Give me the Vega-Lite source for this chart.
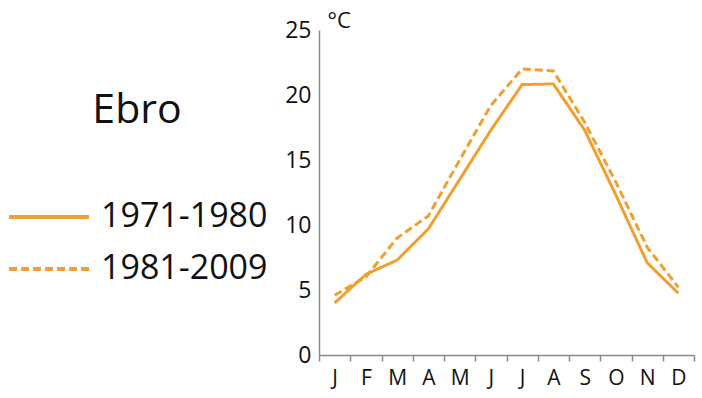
{
  "$schema": "https://vega.github.io/schema/vega-lite/v6.json",
  "width": 375,
  "height": 325,
  "autosize": {"type": "none"},
  "padding": {"left": 319, "top": 30, "right": 8, "bottom": 43},
  "background": "white",
  "config": {"view": {"stroke": null}, "font": "Open Sans"},
  "data": {
    "values": [
      {"month": "January", "period": "1971-1980", "t": 4.0},
      {"month": "February", "period": "1971-1980", "t": 6.2},
      {"month": "March", "period": "1971-1980", "t": 7.3},
      {"month": "April", "period": "1971-1980", "t": 9.7},
      {"month": "May", "period": "1971-1980", "t": 13.5},
      {"month": "June", "period": "1971-1980", "t": 17.3},
      {"month": "July", "period": "1971-1980", "t": 20.8},
      {"month": "August", "period": "1971-1980", "t": 20.85},
      {"month": "September", "period": "1971-1980", "t": 17.3},
      {"month": "October", "period": "1971-1980", "t": 12.3},
      {"month": "November", "period": "1971-1980", "t": 7.1},
      {"month": "December", "period": "1971-1980", "t": 4.75},
      {"month": "January", "period": "1981-2009", "t": 4.6},
      {"month": "February", "period": "1981-2009", "t": 6.0},
      {"month": "March", "period": "1981-2009", "t": 9.0},
      {"month": "April", "period": "1981-2009", "t": 10.7},
      {"month": "May", "period": "1981-2009", "t": 15.0},
      {"month": "June", "period": "1981-2009", "t": 19.2},
      {"month": "July", "period": "1981-2009", "t": 22.0},
      {"month": "August", "period": "1981-2009", "t": 21.85},
      {"month": "September", "period": "1981-2009", "t": 17.9},
      {"month": "October", "period": "1981-2009", "t": 13.3},
      {"month": "November", "period": "1981-2009", "t": 8.3},
      {"month": "December", "period": "1981-2009", "t": 5.2}
    ]
  },
  "mark": {"type": "line", "color": "#F0A030", "strokeWidth": 3},
  "encoding": {
    "x": {
      "field": "month",
      "type": "ordinal",
      "sort": ["January","February","March","April","May","June","July","August","September","October","November","December"],
      "scale": {"type": "band", "paddingInner": 0, "paddingOuter": 0},
      "bandPosition": 0.5,
      "axis": {
        "title": null,
        "labelExpr": "substring(datum.label,0,1)",
        "labelAngle": 0,
        "labelFontSize": 21,
        "labelColor": "#111",
        "labelPadding": 6,
        "domainColor": "#8a8a8a",
        "domainWidth": 1.5,
        "tickColor": "#8a8a8a",
        "tickWidth": 1.5,
        "tickSize": 6,
        "tickBand": "extent",
        "tickExtra": false
      }
    },
    "y": {
      "field": "t",
      "type": "quantitative",
      "scale": {"domain": [0, 25]},
      "axis": {
        "values": [0, 5, 10, 15, 20, 25],
        "grid": false,
        "ticks": false,
        "labelFontSize": 23,
        "labelColor": "#111",
        "labelPadding": 8,
        "domainColor": "#8a8a8a",
        "domainWidth": 1.5,
        "title": "°C",
        "titleAngle": 0,
        "titleX": 8,
        "titleY": -10,
        "titleAlign": "left",
        "titleBaseline": "middle",
        "titleFontWeight": "normal",
        "titleFontSize": 22,
        "titleColor": "#111"
      }
    },
    "strokeDash": {
      "field": "period",
      "type": "nominal",
      "scale": {"domain": ["1971-1980", "1981-2009"], "range": [[1, 0], [8, 4]]},
      "legend": {
        "orient": "none",
        "legendX": -312,
        "legendY": 61,
        "padding": 0,
        "title": "Ebro",
        "titleFontSize": 41,
        "titleFontWeight": "normal",
        "titleColor": "#111",
        "titleAnchor": "middle",
        "titlePadding": 59,
        "labelFontSize": 34,
        "labelColor": "#111",
        "labelOffset": 10,
        "labelLimit": 0,
        "symbolType": "stroke",
        "symbolSize": 6400,
        "symbolStrokeWidth": 4,
        "symbolStrokeColor": "#F0A030",
        "clipHeight": 52,
        "rowPadding": 0
      }
    }
  }
}
